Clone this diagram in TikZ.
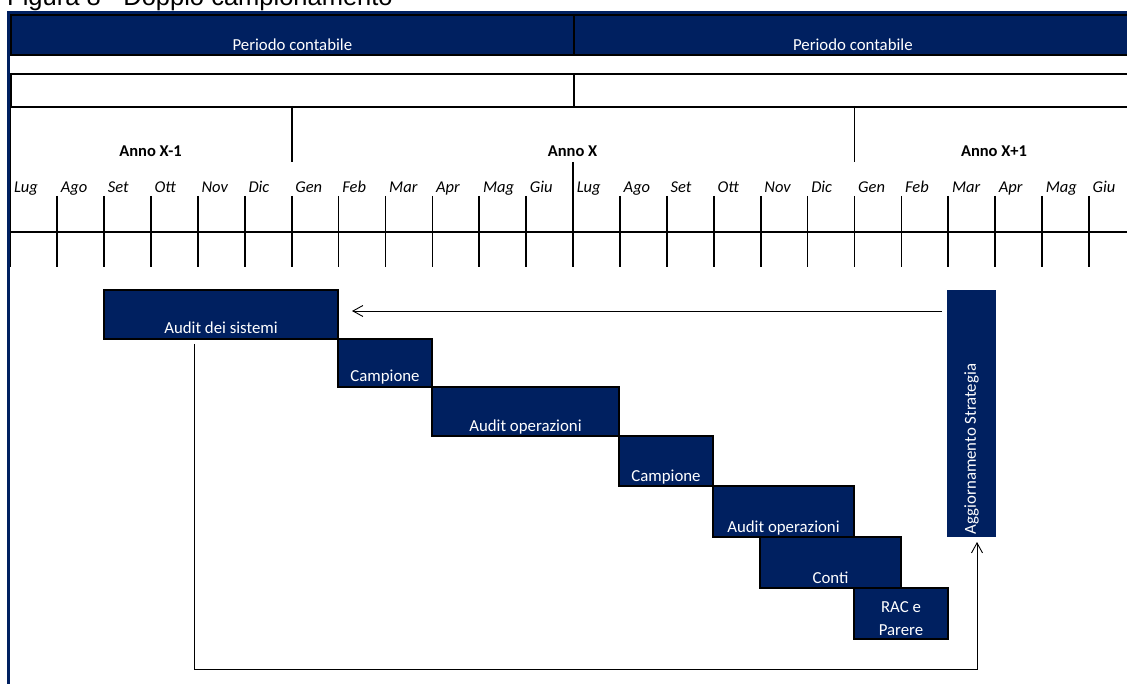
\documentclass[tikz,border=0pt]{standalone}
\usepackage{fontspec}
\setmainfont{Carlito}
\newfontfamily\titlefont{Liberation Sans}
\usetikzlibrary{positioning,arrows.meta}
\definecolor{navy}{HTML}{002060}

\begin{document}
\begin{tikzpicture}[x=1pt,y=-1pt,font=\fontsize{16.8}{20}\selectfont,
grid/.style={line width=1.7pt},
cell/.style={draw,line width=1.7pt,inner sep=0pt,anchor=north west},
hdr/.style={cell,fill=navy,text=white,text height=35.5pt,text depth=4pt},
month/.style={font=\fontsize{16.5}{20}\selectfont\itshape,anchor=base west,inner sep=0pt},
year/.style={font=\fontsize{16.5}{20}\selectfont\bfseries,anchor=base,inner sep=0pt},
bar/.style={draw,line width=1.3pt,fill=navy,text=white,inner sep=0pt,outer sep=0pt,
 text depth=5pt,anchor=south west},
arr/.style={-{Straight Barb[length=10pt,width=11pt]},line width=0.9pt}]
 \useasboundingbox (0,0) rectangle (1127,684);

 \node[anchor=base west,inner sep=0pt,font=\titlefont\fontsize{25.5}{30}\selectfont] (title) at (7,6) {Figura 8 - Doppio campionamento};
 \draw[navy,line width=2.5pt] (8.5,684) -- (8.5,12.5) -- (1127,12.5);

 \node[hdr,minimum width=563] (per1) at (10,14.5) {Periodo contabile};
 \node[hdr,minimum width=558] (per2) at (573,14.5) {Periodo contabile};
 \node[cell,minimum width=563,minimum height=33] (rowA) at (10,73) {};
 \node[cell,minimum width=558,minimum height=33] (rowB) at (573,73) {};

 \draw[grid] (10.5,106) -- (10.5,267) (291.7,106) -- (291.7,162)
 (854.5,106) -- (854.5,162) (573.1,162) -- (573.1,196);
 \draw[grid] (10,232) -- (1127,232);
 \foreach \X in {1,...,23}
 {\draw[grid] (10.3+46.9*\X,196) -- ++ (0,71);}
 \foreach \M [count=\X from 0] in {Lug,Ago,Set,Ott,Nov,Dic,Gen,Feb,Mar,Apr,Mag,Giu,
 Lug,Ago,Set,Ott,Nov,Dic,Gen,Feb,Mar,Apr,Mag,Giu}
 {\node[month] (m\X) at (13.8+46.9*\X,193) {\M};}
 \node[year] (y0) at (150.5,157) {Anno X-1};
 \node[year] (y1) at (572.5,157) {Anno X};
 \node[year] (y2) at (994,157) {Anno X+1};

 \node[bar,minimum width=234,text height=44pt] (sist) at (104,339) {Audit dei sistemi};
 \node[bar,minimum width=94,text height=43pt,below right=0pt of sist] (camp1) {Campione};
 \node[bar,minimum width=187,text height=44pt,below right=0pt of camp1] (op1) {Audit operazioni};
 \node[bar,minimum width=94,text height=45pt,below right=0pt of op1] (camp2) {Campione};
 \node[bar,minimum width=141,text height=46pt,below right=0pt of camp2] (op2) {Audit operazioni};
 \node[bar,minimum width=141,text height=46pt,anchor=north west] (conti) at (760,537) {Conti};
 \node[bar,minimum width=94,text height=47pt,text depth=4pt,align=center,
 font=\fontsize{16.8}{23}\selectfont,anchor=north west] (rac) at (854,588) {RAC e\\Parere};
 \node[bar,draw=none,minimum width=49,text height=244pt,text depth=3pt] (agg) at (947,537)
 {\rotatebox{90}{Aggiornamento Strategia}};

 \coordinate (back) at (0,311);
 \coordinate (base) at (0,669);
 \draw[arr,shorten <=5pt,shorten >=14pt] (agg.west |- back) -- (sist.east |- back);
 \draw[arr,shorten <=5pt,shorten >=5pt] ([xshift=-26.5pt]sist.south)
 -- ([xshift=-26.5pt]sist.south |- base) -| ([xshift=5.5pt]agg.south);
\end{tikzpicture}
\end{document}
